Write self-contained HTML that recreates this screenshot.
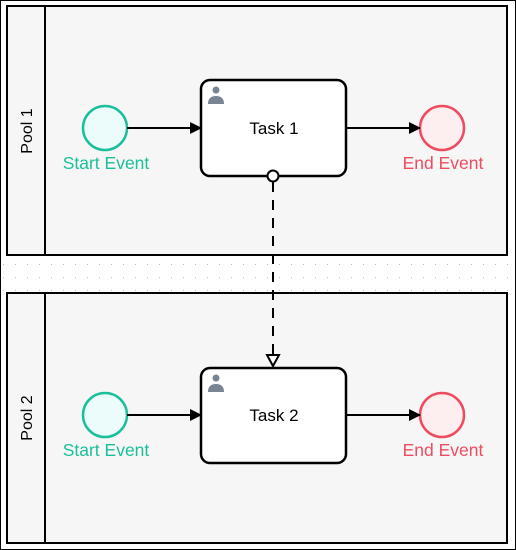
<!DOCTYPE html>
<html><head><meta charset="utf-8"><style>
html,body{margin:0;padding:0;background:#fff}
svg{display:block}
text{font-family:"Liberation Sans",sans-serif}
</style></head><body>
<svg width="516" height="550" viewBox="0 0 516 550" xmlns="http://www.w3.org/2000/svg">
<defs>
<pattern id="dots" width="12" height="13" patternUnits="userSpaceOnUse" x="3" y="4">
<rect x="0" y="0" width="1" height="1" fill="#bbb"/>
</pattern>
<marker id="arr" markerWidth="12" markerHeight="12" refX="11" refY="6" orient="auto" markerUnits="userSpaceOnUse">
<path d="M0,0 L12,6 L0,12 z" fill="#000"/>
</marker>
</defs>
<rect x="0.5" y="0.5" width="515" height="549" fill="#fff" stroke="#000"/>
<rect x="2" y="258" width="512" height="34" fill="url(#dots)"/>
<g stroke="#000" stroke-width="2">
<rect x="7" y="6" width="500" height="249" fill="#f6f6f6"/>
<line x1="45" y1="6" x2="45" y2="255"/>
<rect x="7" y="293" width="500" height="250" fill="#f6f6f6"/>
<line x1="45" y1="293" x2="45" y2="543"/>
</g>
<text transform="translate(32,131) rotate(-90)" text-anchor="middle" font-size="16" fill="#000">Pool 1</text>
<text transform="translate(32,418) rotate(-90)" text-anchor="middle" font-size="16" fill="#000">Pool 2</text>

<g>
<circle cx="105" cy="128" r="22" fill="#ebfcfa" stroke="#1bbf9c" stroke-width="2.5"/>
<circle cx="442" cy="128" r="22" fill="#fdeef0" stroke="#ee4c60" stroke-width="2.5"/>
<circle cx="105" cy="415" r="22" fill="#ebfcfa" stroke="#1bbf9c" stroke-width="2.5"/>
<circle cx="442" cy="415" r="22" fill="#fdeef0" stroke="#ee4c60" stroke-width="2.5"/>
</g>
<g font-size="17.5" text-anchor="middle">
<text x="106" y="169" fill="#1bbf9c">Start Event</text>
<text x="443" y="169" fill="#ee4c60">End Event</text>
<text x="106" y="456" fill="#1bbf9c">Start Event</text>
<text x="443" y="456" fill="#ee4c60">End Event</text>
</g>

<g stroke="#000" stroke-width="2">
<line x1="127" y1="128" x2="201" y2="128" marker-end="url(#arr)"/>
<line x1="346" y1="128" x2="420" y2="128" marker-end="url(#arr)"/>
<line x1="127" y1="415" x2="201" y2="415" marker-end="url(#arr)"/>
<line x1="346" y1="415" x2="420" y2="415" marker-end="url(#arr)"/>
<rect x="201" y="80" width="145" height="96" rx="9" fill="#fff" stroke-width="2.5"/>
<rect x="201" y="368" width="145" height="95" rx="9" fill="#fff" stroke-width="2.5"/>
<line x1="273" y1="182" x2="273" y2="354" stroke-dasharray="10,8"/>
<circle cx="273" cy="176" r="5.5" fill="#fff"/>
<path d="M267,355 L279,355 L273,366 z" fill="#fff"/>
</g>
<g fill="#7a8593">
<circle cx="216" cy="90" r="3.5"/><path d="M208,104 q0,-8 8,-8 q8,0 8,8 z"/>
<circle cx="216" cy="378" r="3.5"/><path d="M208,392 q0,-8 8,-8 q8,0 8,8 z"/>
</g>
<g font-size="17" text-anchor="middle" fill="#000">
<text x="274" y="134">Task 1</text>
<text x="274" y="421">Task 2</text>
</g>
</svg>
</body></html>
